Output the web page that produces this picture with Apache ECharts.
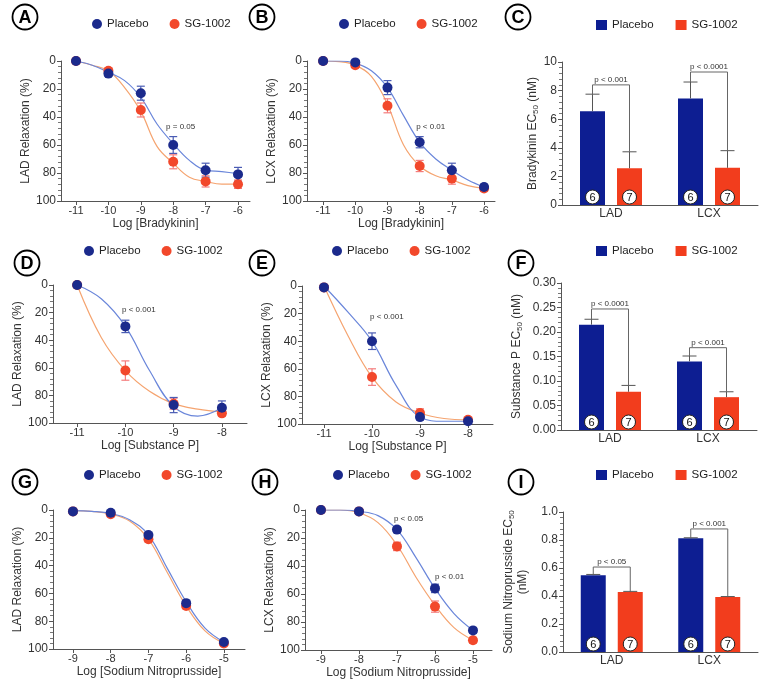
<!DOCTYPE html>
<html><head><meta charset="utf-8">
<script src="https://cdn.jsdelivr.net/npm/echarts@6/dist/echarts.min.js"></script>
<style>html,body{margin:0;padding:0;background:#fff}#c{width:764px;height:683px}</style>
</head><body><div id="c"></div>
<script>
// ---------------- DATA ----------------
// Bradykinin (A, B)
const brdX = [-11, -10, -9, -8, -7, -6];
const brdFitX = [-11, -10.5, -10, -9.5, -9, -8.5, -8, -7.5, -7, -6.5, -6];
const aPlacebo = [0, 9, 23, 60, 78, 81];
const aPlaceboSem = [1, 2, 5, 6, 5, 5];
const aSG = [0, 7, 35, 72, 86, 88];
const aSGSem = [1, 2, 5, 5, 4, 3];
const aPlaceboFit = [0, 3, 8, 14, 26, 45, 59, 71, 78, 79, 80.5];
const aSGFit = [0, 3, 7, 19, 36, 61, 73, 83, 86, 88, 88];
const aNotes = [[-8.22, 47, 'p = 0.05']];

const bPlacebo = [0, 1, 19, 58, 78, 90];
const bPlaceboSem = [1, 1.5, 5, 4, 5, 2];
const bSG = [0, 3, 32, 75, 84, 91];
const bSGSem = [1, 1.5, 5, 4, 4, 2];
const bPlaceboFit = [0, 0, 1.5, 7, 19, 39, 58, 70, 78, 85, 90];
const bSGFit = [0, 0.5, 3, 11, 31, 60, 75, 82, 85, 89, 91];
const bNotes = [[-8.11, 47, 'p < 0.01']];

// Substance P (D, E)
const spX = [-11, -10, -9, -8];
const spFitX = [-11, -10.5, -10, -9.5, -9, -8.5, -8];
const dPlacebo = [0, 30, 87, 89];
const dPlaceboSem = [1, 4.5, 5.5, 5];
const dSG = [0, 62, 86, 93];
const dSGSem = [1, 7, 4, 2];
const dPlaceboFit = [0, 10, 30, 62, 88, 95, 89];
const dSGFit = [0, 38, 62, 77, 86, 90, 92];
const dNotes = [[-10.07, 18, 'p < 0.001']];

const ePlacebo = [1, 40, 95, 98];
const ePlaceboSem = [1, 6, 2, 2];
const eSG = [1, 66, 92, 97];
const eSGSem = [1, 6, 3, 1];
const ePlaceboFit = [0, 19, 40, 72, 95, 98, 98];
const eSGFit = [0, 36, 66, 84, 92, 96, 97];
const eNotes = [[-10.04, 22.5, 'p < 0.001']];

// Sodium nitroprusside (G, H)
const snpX = [-9, -8, -7, -6, -5];
const snpFitX = [-9, -8.5, -8, -7.5, -7, -6.5, -6, -5.5, -5];
const gPlacebo = [1, 2, 18, 67, 95];
const gPlaceboSem = [1, 1, 2, 2, 1.5];
const gSG = [1, 3, 21, 69, 96];
const gSGSem = [1, 1, 2, 2, 1.5];
const gPlaceboFit = [0.5, 1, 2.5, 7, 18, 42, 66, 85, 95];
const gSGFit = [0.5, 1, 3, 8, 21, 45, 69, 87, 96];
const gNotes = [];

const hPlacebo = [0, 1, 14, 56, 86];
const hPlaceboSem = [1, 1, 2, 3, 2];
const hSG = [0, 1, 26, 69, 93];
const hSGSem = [1, 1, 3, 4, 2];
const hPlaceboFit = [0, 0, 1, 4, 14, 34, 56, 74, 86];
const hSGFit = [0, 0, 2, 9, 25, 48, 68, 84, 93];
const hNotes = [[-7.08, 6.4, 'p < 0.05'], [-6.0, 48, 'p < 0.01']];

// EC50 bar panels (C, F, I)
const barCats = ['LAD', 'LCX'];
const cPlacebo = [6.55, 7.45];
const cPlaceboErr = [1.2, 1.15];
const cSG = [2.57, 2.6];
const cSGErr = [1.15, 1.2];
const cBracket = [8.4, 9.3];
const cP = ['p < 0.001', 'p < 0.0001'];

const fPlacebo = [0.215, 0.140];
const fPlaceboErr = [0.011, 0.011];
const fSG = [0.078, 0.067];
const fSGErr = [0.013, 0.011];
const fBracket = [0.247, 0.168];
const fP = ['p < 0.0001', 'p < 0.001'];

const iPlacebo = [0.548, 0.812];
const iPlaceboErr = [0.006, 0.004];
const iSG = [0.428, 0.392];
const iSGErr = [0.005, 0.004];
const iBracket = [0.607, 0.879];
const iP = ['p < 0.05', 'p < 0.001'];

const nPlacebo = [6, 6];
const nSG = [7, 7];

// ---------------- STYLE ----------------
const FONT = '"Liberation Sans", Arial, Helvetica, sans-serif';
const C_BLUE = '#1b2a8c', C_RED = '#f2482b';
const C_BLUE_FIT = '#6a86da', C_RED_FIT = '#f5a470';
const C_BLUE_ERR = '#4a5cb4', C_RED_ERR = '#f47c7c';
const C_BLUE_BAR = '#0d1e92', C_RED_BAR = '#f23d1d';
const AX = '#555', TXT = '#333';

const option = {
  animation: false,
  backgroundColor: '#fff',
  textStyle: { fontFamily: FONT },
  grid: [], xAxis: [], yAxis: [], series: [], legend: [], graphic: []
};

function addLegend(left, top, icon) {
  const isRect = icon === 'rect';
  option.legend.push({
    left, top, padding: 0, selectedMode: false,
    itemWidth: isRect ? 11 : 10, itemHeight: isRect ? 10 : 10,
    itemGap: isRect ? 22 : 21,
    textStyle: { fontSize: 11.5, color: '#222', fontFamily: FONT },
    data: [
      { name: 'Placebo', icon, itemStyle: { color: isRect ? C_BLUE_BAR : C_BLUE } },
      { name: 'SG-1002', icon, itemStyle: { color: isRect ? C_RED_BAR : C_RED } }
    ]
  });
}

function errSeries(gi, xs, ys, sem, color) {
  return {
    type: 'custom', xAxisIndex: gi, yAxisIndex: gi, silent: true, z: 3,
    data: xs.map((x, i) => [x, ys[i], sem[i]]),
    renderItem: (params, api) => {
      const x = api.value(0), y = api.value(1), e = api.value(2);
      const p1 = api.coord([x, y - e]), p2 = api.coord([x, y + e]);
      const w = 4, st = { stroke: color, lineWidth: 1.2 };
      return { type: 'group', children: [
        { type: 'line', shape: { x1: p1[0], y1: p1[1], x2: p2[0], y2: p2[1] }, style: st },
        { type: 'line', shape: { x1: p1[0] - w, y1: p1[1], x2: p1[0] + w, y2: p1[1] }, style: st },
        { type: 'line', shape: { x1: p2[0] - w, y1: p2[1], x2: p2[0] + w, y2: p2[1] }, style: st }
      ]};
    }
  };
}

function linePanel(gi, c) {
  option.grid.push(Object.assign({ containLabel: false }, c.grid));
  option.xAxis.push({
    gridIndex: gi, type: 'value', min: c.xmin, max: c.xmax,
    axisLine: { onZero: false, lineStyle: { color: AX, width: 1 } },
    axisTick: { customValues: c.x, length: 4, lineStyle: { color: AX } },
    axisLabel: { customValues: c.x, fontSize: 11, color: TXT, margin: 4 },
    splitLine: { show: false },
    name: c.xName, nameLocation: 'middle', nameGap: 17,
    nameTextStyle: { fontSize: 12, color: TXT }
  });
  option.yAxis.push({
    gridIndex: gi, type: 'value', inverse: true, min: 0, max: 100, interval: 20,
    axisLine: { show: true, onZero: false, lineStyle: { color: AX, width: 1 } },
    axisTick: { show: true, length: 4, lineStyle: { color: AX } },
    minorTick: { show: true, splitNumber: 5, length: 3, lineStyle: { color: '#777' } },
    axisLabel: { fontSize: 12, color: TXT, margin: 5 },
    splitLine: { show: false },
    name: c.yName, nameLocation: 'middle', nameGap: c.nameGap,
    nameTextStyle: { fontSize: 12, color: TXT }
  });
  const base = { xAxisIndex: gi, yAxisIndex: gi, silent: true };
  option.series.push(Object.assign({
    type: 'line', name: 'SG fit', data: c.fitX.map((x, i) => [x, c.sgFit[i]]),
    smooth: 0.4, symbol: 'none', lineStyle: { color: C_RED_FIT, width: 1.2 }, z: 2
  }, base));
  option.series.push(Object.assign({
    type: 'line', name: 'Placebo fit', data: c.fitX.map((x, i) => [x, c.plFit[i]]),
    smooth: 0.4, symbol: 'none', lineStyle: { color: C_BLUE_FIT, width: 1.2 }, z: 2
  }, base));
  option.series.push(errSeries(gi, c.x, c.sg, c.sgSem, C_RED_ERR));
  option.series.push(errSeries(gi, c.x, c.pl, c.plSem, C_BLUE_ERR));
  option.series.push(Object.assign({
    type: 'scatter', name: 'SG-1002', data: c.x.map((x, i) => [x, c.sg[i]]),
    symbolSize: 10, itemStyle: { color: C_RED, opacity: 1 }, z: 4
  }, base));
  option.series.push(Object.assign({
    type: 'scatter', name: 'Placebo', data: c.x.map((x, i) => [x, c.pl[i]]),
    symbolSize: 10, itemStyle: { color: C_BLUE, opacity: 1 }, z: 5
  }, base));
  if (c.notes.length) {
    const notes = c.notes;
    option.series.push(Object.assign({
      type: 'custom', z: 6, data: notes.map(n => [n[0], n[1]]),
      renderItem: (params, api) => {
        const p = api.coord([api.value(0), api.value(1)]);
        return { type: 'text', style: { text: notes[params.dataIndex][2], x: p[0], y: p[1],
          align: 'left', verticalAlign: 'middle', fontSize: 8, fill: TXT, fontFamily: FONT } };
      }
    }, base));
  }
  addLegend(c.legend[0], c.legend[1], 'circle');
}

function barPanel(gi, c) {
  option.grid.push(Object.assign({ containLabel: false }, c.grid));
  option.xAxis.push({
    gridIndex: gi, type: 'category', data: barCats,
    axisLine: { lineStyle: { color: AX, width: 1 } },
    axisTick: { show: false },
    axisLabel: { fontSize: 12, color: TXT, margin: 3 }
  });
  option.yAxis.push({
    gridIndex: gi, type: 'value', min: 0, max: c.ymax, interval: c.interval,
    axisLine: { show: true, lineStyle: { color: AX, width: 1 } },
    axisTick: { show: true, length: 4, lineStyle: { color: AX } },
    minorTick: { show: true, splitNumber: 5, length: 3, lineStyle: { color: '#777' } },
    axisLabel: { fontSize: 12, color: TXT, margin: 5, formatter: v => v.toFixed(c.dec) },
    splitLine: { show: false },
    name: c.yName, nameLocation: 'middle', nameGap: c.nameGap,
    nameTextStyle: { fontSize: 12, color: TXT, lineHeight: 14,
      rich: { s: { fontSize: 8, color: TXT, verticalAlign: 'bottom', lineHeight: 14 } } }
  });
  const base = { xAxisIndex: gi, yAxisIndex: gi, silent: true };
  option.series.push(Object.assign({ type: 'bar', name: 'Placebo', data: c.pl,
    barWidth: 25, barGap: '48%', itemStyle: { color: C_BLUE_BAR }, z: 2 }, base));
  option.series.push(Object.assign({ type: 'bar', name: 'SG-1002', data: c.sg,
    barWidth: 25, barGap: '48%', itemStyle: { color: C_RED_BAR }, z: 2 }, base));
  const pl = c.pl, plErr = c.plErr, sg = c.sg, sgErr = c.sgErr, br = c.bracket, pt = c.pText;
  option.series.push(Object.assign({
    type: 'custom', z: 5, data: barCats.map((k, i) => [i, 0]),
    renderItem: (params, api) => {
      const i = params.dataIndex;
      const b = api.coord([i, 0]);
      const cx0 = b[0] - 18.5, cx1 = b[0] + 18.5;
      const yOf = v => api.coord([i, v])[1];
      const plTop = pl[i] + plErr[i], sgTop = sg[i] + sgErr[i];
      const yB = yOf(br[i]);
      const est = { stroke: '#555', lineWidth: 1 };
      const ch = [];
      [[cx0, pl[i], plTop], [cx1, sg[i], sgTop]].forEach(([cx, v, t]) => {
        ch.push({ type: 'line', shape: { x1: cx, y1: yOf(v), x2: cx, y2: yOf(t) }, style: est });
        ch.push({ type: 'line', shape: { x1: cx - 7, y1: yOf(t), x2: cx + 7, y2: yOf(t) }, style: est });
      });
      ch.push({ type: 'polyline', shape: { points: [[cx0, yOf(plTop)], [cx0, yB], [cx1, yB], [cx1, yOf(sgTop)]] },
        style: { stroke: '#666', fill: null, lineWidth: 1 } });
      ch.push({ type: 'text', style: { text: pt[i], x: (cx0 + cx1) / 2, y: yB - 1, align: 'center',
        verticalAlign: 'bottom', fontSize: 8, fill: TXT, fontFamily: FONT } });
      [[cx0, nPlacebo[i]], [cx1, nSG[i]]].forEach(([cx, n]) => {
        ch.push({ type: 'circle', shape: { cx, cy: b[1] - 8, r: 7 }, style: { fill: '#fff', stroke: '#222', lineWidth: 1 } });
        ch.push({ type: 'text', style: { text: String(n), x: cx, y: b[1] - 7.5, align: 'center',
          verticalAlign: 'middle', fontSize: 11, fill: '#111', fontFamily: FONT } });
      });
      return { type: 'group', children: ch };
    }
  }, base));
  addLegend(c.legend[0], c.legend[1], 'rect');
}

linePanel(0, { grid: { left: 61, top: 61, width: 189, height: 140 }, xmin: -11.463, xmax: -5.63,
  x: brdX, fitX: brdFitX, pl: aPlacebo, plSem: aPlaceboSem, sg: aSG, sgSem: aSGSem,
  plFit: aPlaceboFit, sgFit: aSGFit, notes: aNotes, xName: 'Log [Bradykinin]',
  yName: 'LAD Relaxation (%)', nameGap: 25, legend: [92, 18] });
linePanel(1, { grid: { left: 307, top: 61, width: 188, height: 140 }, xmin: -11.5, xmax: -5.66,
  x: brdX, fitX: brdFitX, pl: bPlacebo, plSem: bPlaceboSem, sg: bSG, sgSem: bSGSem,
  plFit: bPlaceboFit, sgFit: bSGFit, notes: bNotes, xName: 'Log [Bradykinin]',
  yName: 'LCX Relaxation (%)', nameGap: 25, legend: [339, 18] });
barPanel(2, { grid: { left: 562, top: 62, width: 196, height: 143 }, ymax: 10, interval: 2, dec: 0,
  pl: cPlacebo, plErr: cPlaceboErr, sg: cSG, sgErr: cSGErr, bracket: cBracket, pText: cP,
  yName: 'Bradykinin EC{s|50} (nM)', nameGap: 20, legend: [596, 19] });
linePanel(3, { grid: { left: 53, top: 285, width: 194, height: 138 }, xmin: -11.5, xmax: -7.48,
  x: spX, fitX: spFitX, pl: dPlacebo, plSem: dPlaceboSem, sg: dSG, sgSem: dSGSem,
  plFit: dPlaceboFit, sgFit: dSGFit, notes: dNotes, xName: 'Log [Substance P]',
  yName: 'LAD Relaxation (%)', nameGap: 23, legend: [84, 245] });
linePanel(4, { grid: { left: 302, top: 286, width: 191, height: 138 }, xmin: -11.458, xmax: -7.48,
  x: spX, fitX: spFitX, pl: ePlacebo, plSem: ePlaceboSem, sg: eSG, sgSem: eSGSem,
  plFit: ePlaceboFit, sgFit: eSGFit, notes: eNotes, xName: 'Log [Substance P]',
  yName: 'LCX Relaxation (%)', nameGap: 29, legend: [332, 245] });
barPanel(5, { grid: { left: 561, top: 283, width: 196, height: 147 }, ymax: 0.30, interval: 0.05, dec: 2,
  pl: fPlacebo, plErr: fPlaceboErr, sg: fSG, sgErr: fSGErr, bracket: fBracket, pText: fP,
  yName: 'Substance P EC{s|50} (nM)', nameGap: 37, legend: [596, 245] });
linePanel(6, { grid: { left: 53, top: 510, width: 192, height: 139 }, xmin: -9.53, xmax: -4.44,
  x: snpX, fitX: snpFitX, pl: gPlacebo, plSem: gPlaceboSem, sg: gSG, sgSem: gSGSem,
  plFit: gPlaceboFit, sgFit: gSGFit, notes: gNotes, xName: 'Log [Sodium Nitroprusside]',
  yName: 'LAD Relaxation (%)', nameGap: 25, legend: [84, 469] });
linePanel(7, { grid: { left: 305, top: 510, width: 187, height: 140 }, xmin: -9.42, xmax: -4.5,
  x: snpX, fitX: snpFitX, pl: hPlacebo, plSem: hPlaceboSem, sg: hSG, sgSem: hSGSem,
  plFit: hPlaceboFit, sgFit: hSGFit, notes: hNotes, xName: 'Log [Sodium Nitroprusside]',
  yName: 'LCX Relaxation (%)', nameGap: 28, legend: [333, 469] });
barPanel(8, { grid: { left: 563, top: 512, width: 195, height: 140 }, ymax: 1.0, interval: 0.2, dec: 1,
  pl: iPlacebo, plErr: iPlaceboErr, sg: iSG, sgErr: iSGErr, bracket: iBracket, pText: iP,
  yName: 'Sodium Nitroprusside EC{s|50}\n(nM)', nameGap: 33, legend: [596, 469] });

// panel letters
const letters = [['A', 25, 17], ['B', 262, 17], ['C', 518, 17], ['D', 27, 263], ['E', 262, 263],
  ['F', 521, 263], ['G', 25, 482], ['H', 265, 482], ['I', 521, 482]];
letters.forEach(([t, x, y]) => {
  option.graphic.push({ type: 'circle', shape: { cx: x, cy: y, r: 12.5 }, style: { fill: '#fff', stroke: '#000', lineWidth: 1.8 }, z: 10 });
  option.graphic.push({ type: 'text', x: x, y: y + 1, z: 11, style: { text: t, align: 'center', verticalAlign: 'middle',
    font: 'bold 18px ' + FONT, fill: '#000' } });
});

const chart = echarts.init(document.getElementById('c'), null, { renderer: 'canvas' });
chart.setOption(option);
</script></body></html>
